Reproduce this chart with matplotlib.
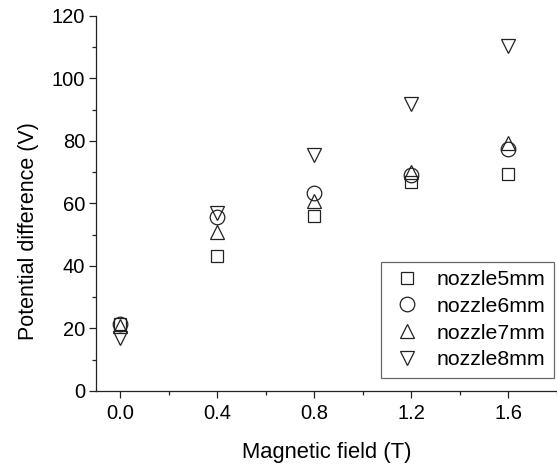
import matplotlib
matplotlib.use("Agg")
import matplotlib.pyplot as plt
from matplotlib.ticker import MultipleLocator

plt.rcParams['font.family'] = ['Liberation Sans', 'DejaVu Sans']

magnetic_field = [0.0, 0.4, 0.8, 1.2, 1.6]
nozzle5mm = [21.4, 43.2, 56.1, 66.9, 69.4]
nozzle6mm = [21.4, 55.6, 63.3, 69.2, 77.3]
nozzle7mm = [20.8, 50.8, 60.9, 70.0, 79.2]
nozzle8mm = [16.9, 56.9, 75.5, 91.8, 110.2]
series_labels = ['nozzle5mm', 'nozzle6mm', 'nozzle7mm', 'nozzle8mm']

fig = plt.figure(figsize=(5.57, 4.66), dpi=100)
ax = fig.add_axes([95.7/557, 75/466, (557-95.7)/557, (391-15.8)/466])

styles = [('s', 8.8), ('o', 10.5), ('^', 10.5), ('v', 10.5)]
for vals, lab, (m, ms) in zip([nozzle5mm, nozzle6mm, nozzle7mm, nozzle8mm], series_labels, styles):
    ax.plot(magnetic_field, vals, linestyle='none', marker=m, markersize=ms,
            markerfacecolor='none', markeredgecolor='#222222', markeredgewidth=0.9,
            label=lab, clip_on=False)

ax.set_xlim(-0.1, 1.8)
ax.set_ylim(0, 120)
ax.xaxis.set_major_locator(MultipleLocator(0.4))
ax.xaxis.set_minor_locator(MultipleLocator(0.2))
ax.yaxis.set_major_locator(MultipleLocator(20))
ax.yaxis.set_minor_locator(MultipleLocator(10))
ax.set_xticks([0.0, 0.4, 0.8, 1.2, 1.6])
ax.set_xticklabels(['0.0', '0.4', '0.8', '1.2', '1.6'])

for s in ['top', 'right']:
    ax.spines[s].set_visible(False)
for s in ['left', 'bottom']:
    ax.spines[s].set_linewidth(0.9)
    ax.spines[s].set_color('#222222')

ax.tick_params(which='major', direction='out', length=4.7, width=0.9, color='#222222',
               labelsize=14.5)
ax.tick_params(axis='x', which='major', pad=4.5)
ax.tick_params(axis='y', which='major', pad=3)
ax.tick_params(which='minor', direction='out', length=3.1, width=0.9, color='#222222')

ax.set_xlabel('Magnetic field (T)', fontsize=15.8, labelpad=14)
ax.set_ylabel('Potential difference (V)', fontsize=15.5)
ax.yaxis.set_label_coords(-0.123, 0.427)

leg = ax.legend(loc='lower right', bbox_to_anchor=(0.994, 0.0354), borderaxespad=0,
                fontsize=15.3, frameon=True, fancybox=False, handletextpad=0.55,
                labelspacing=0.36, borderpad=0.4, handlelength=1.7)
leg.get_frame().set_edgecolor('#444444')
leg.get_frame().set_linewidth(0.9)

fig.savefig('out.png', dpi=100)
